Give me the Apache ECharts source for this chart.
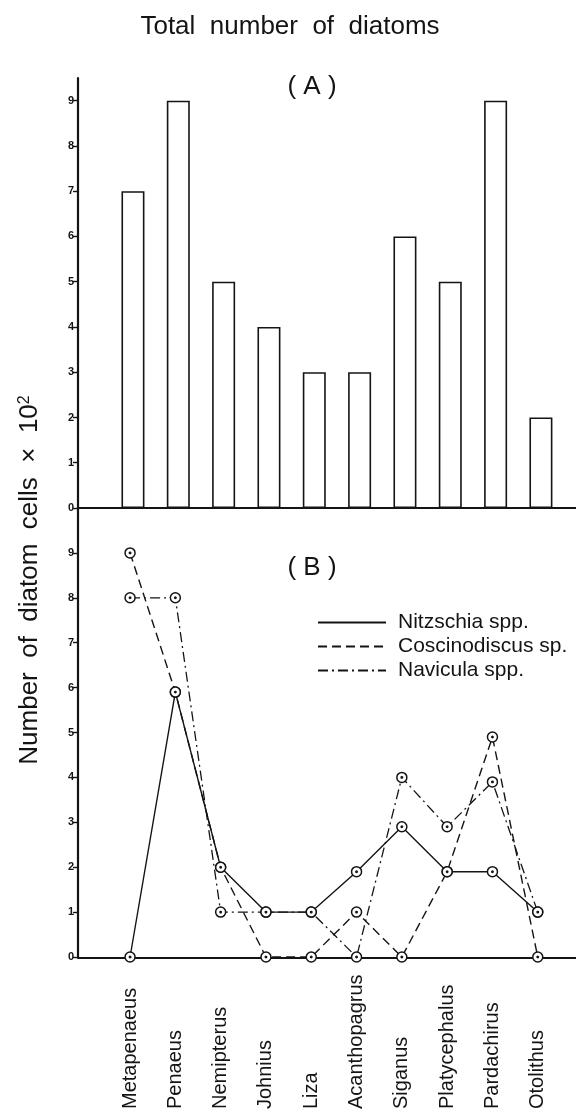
<!DOCTYPE html>
<html>
<head>
<meta charset="utf-8">
<script src="https://cdn.jsdelivr.net/npm/echarts@6/dist/echarts.min.js"></script>
<style>
  html, body { margin: 0; padding: 0; background: #fff; }
  #chart { width: 576px; height: 1112px; }
</style>
</head>
<body>
<div id="chart"></div>
<script>
// fish genera along the x axis
const species = ['Metapenaeus', 'Penaeus', 'Nemipterus', 'Johnius', 'Liza',
  'Acanthopagrus', 'Siganus', 'Platycephalus', 'Pardachirus', 'Otolithus'];

// (A) total number of diatoms, x 10^2 cells
const totalDiatoms = [7, 9, 5, 4, 3, 3, 6, 5, 9, 2];

// (B) per genus of diatom, x 10^2 cells
const nitzschia = [0, 5.9, 2, 1, 1, 1.9, 2.9, 1.9, 1.9, 1];
const coscinodiscus = [9, 5.9, 2, 0, 0, 1, 0, 1.9, 4.9, 0];
const navicula = [8, 8, 1, 1, 1, 0, 4, 2.9, 3.9, 1];

// y tick labels of both panels
const ticksA = [0, 1, 2, 3, 4, 5, 6, 7, 8, 9];
const ticksB = [0, 1, 2, 3, 4, 5, 6, 7, 8, 9];

const FONT = '"Liberation Sans", Arial, Helvetica, sans-serif';
const INK = '#141414';
// open circle with a dot in the middle
const RING_DOT = 'path://M10,0A10,10 0 1,1 -10,0A10,10 0 1,1 10,0Z M1.4,0A1.4,1.4 0 1,1 -1.4,0A1.4,1.4 0 1,1 1.4,0Z';

const chart = echarts.init(document.getElementById('chart'));

function valueAxis(gridIndex, max, ticks, offset) {
  return {
    type: 'value', gridIndex: gridIndex, min: 0, max: max, offset: offset,
    axisLine: { show: true, lineStyle: { color: INK, width: 2.2 } },
    axisTick: { show: true, length: 5, customValues: ticks, lineStyle: { color: INK, width: 1.4 } },
    axisLabel: { customValues: ticks, fontSize: 11, fontWeight: 'bold', color: INK, margin: 4, fontFamily: FONT },
    splitLine: { show: false }
  };
}

// full width base line (the category axes are narrower than the frame)
function frameX(gridIndex) {
  return {
    type: 'value', gridIndex: gridIndex, min: 0, max: 1,
    axisLine: { show: true, onZero: false, lineStyle: { color: INK, width: 2.2 } },
    axisTick: { show: false }, axisLabel: { show: false }, splitLine: { show: false }
  };
}

function frameY(gridIndex) {
  return { type: 'value', gridIndex: gridIndex, min: 0, max: 1, show: false };
}

function diatomLine(name, data, dash, width) {
  return {
    name: name, type: 'line', xAxisIndex: 2, yAxisIndex: 2, data: data,
    symbol: RING_DOT, symbolSize: 10, showAllSymbol: true,
    lineStyle: { color: INK, width: width, type: dash },
    itemStyle: { color: '#fff', borderColor: INK, borderWidth: 1.5 },
    emphasis: { disabled: true },
    animation: false
  };
}

const option = {
  backgroundColor: '#fff',
  animation: false,
  title: [
    { text: 'Total  number  of  diatoms', left: 285, top: 9, textAlign: 'center',
      textStyle: { fontSize: 26, fontWeight: 'normal', color: INK, fontFamily: FONT } },
    { text: '( A )', left: 307, top: 69, textAlign: 'center',
      textStyle: { fontSize: 26, fontWeight: 'normal', color: INK, fontFamily: FONT } },
    { text: '( B )', left: 307, top: 550, textAlign: 'center',
      textStyle: { fontSize: 26, fontWeight: 'normal', color: INK, fontFamily: FONT } }
  ],
  legend: {
    orient: 'vertical', left: 312, top: 607,
    itemWidth: 68, itemHeight: 10, itemGap: 3,
    selectedMode: false,
    itemStyle: { opacity: 0 },
    textStyle: { fontSize: 21, color: INK, fontFamily: FONT, padding: [0, 0, 0, 7] },
    data: ['Nitzschia spp.', 'Coscinodiscus sp.', 'Navicula spp.']
  },
  grid: [
    { left: 110.3, right: 12.4, top: 78, height: 430 },
    { left: 78, right: 0, top: 78, height: 430 },
    { left: 107.4, right: 15.6, top: 508, height: 450 },
    { left: 78, right: 0, top: 508, height: 450 }
  ],
  xAxis: [
    { type: 'category', gridIndex: 0, data: species,
      axisLine: { show: false }, axisTick: { show: false }, axisLabel: { show: false } },
    frameX(1),
    { type: 'category', gridIndex: 2, data: species,
      axisLine: { show: false }, axisTick: { show: false },
      axisLabel: { interval: 0, rotate: 90, align: 'left', margin: 152,
        fontSize: 20, color: INK, fontFamily: FONT } },
    frameX(3)
  ],
  yAxis: [
    valueAxis(0, 9.5, ticksA, 32.3),
    frameY(1),
    valueAxis(2, 10, ticksB, 29.4),
    frameY(3)
  ],
  graphic: [
    { type: 'text', x: 30, y: 580, rotation: Math.PI / 2,
      style: {
        text: 'Number  of  diatom  cells  ×  10{sup|2}',
        font: '26px ' + FONT, fill: INK, align: 'center', verticalAlign: 'middle',
        rich: { sup: { fontSize: 16, verticalAlign: 'top', fontFamily: FONT, fill: INK } }
      } }
  ],
  series: [
    { name: 'Total', type: 'bar', xAxisIndex: 0, yAxisIndex: 0, data: totalDiatoms,
      barWidth: 23,
      itemStyle: { color: '#fff', borderColor: INK, borderWidth: 1.6 },
      emphasis: { disabled: true } },
    diatomLine('Nitzschia spp.', nitzschia, 'solid', 1.4),
    diatomLine('Coscinodiscus sp.', coscinodiscus, [9, 5], 1.4),
    diatomLine('Navicula spp.', navicula, [10, 4, 2, 4], 1.3)
  ]
};

chart.setOption(option);
</script>
</body>
</html>
